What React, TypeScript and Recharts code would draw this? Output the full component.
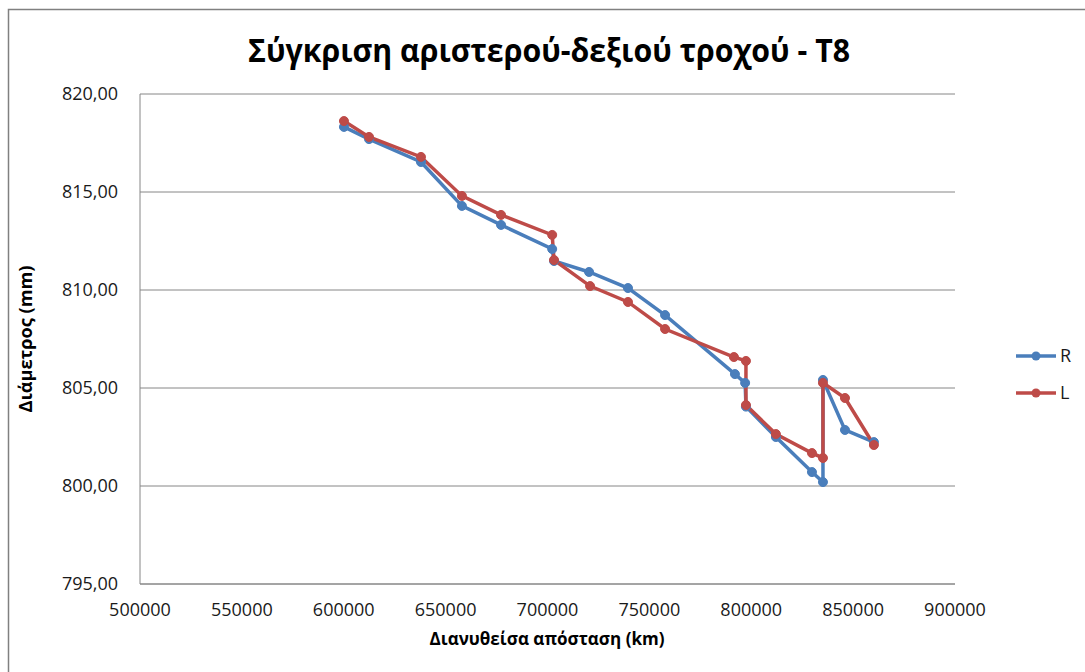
import React from "react";
import { LineChart, Line, XAxis, YAxis, CartesianGrid } from "recharts";

const rKm = [600100, 612400, 637900, 658000, 677200, 702300, 703200, 720400, 739500, 757700, 792000, 797000, 797400, 812100, 829800, 835200, 835200, 846000, 860200];
const rVal = [818.32, 817.7, 816.53, 814.29, 813.32, 812.09, 811.48, 810.92, 810.1, 808.72, 805.71, 805.26, 804.05, 802.5, 800.71, 800.2, 805.41, 802.86, 802.24];

const lKm = [600100, 612400, 637900, 658000, 677200, 702300, 703200, 720900, 739500, 757700, 791500, 797400, 797400, 812100, 829800, 835200, 835200, 846000, 860200];
const lVal = [818.62, 817.81, 816.79, 814.8, 813.83, 812.81, 811.53, 810.2, 809.39, 808.01, 806.58, 806.38, 804.13, 802.65, 801.68, 801.43, 805.26, 804.49, 802.09];

const xTicks = [500000, 550000, 600000, 650000, 700000, 750000, 800000, 850000, 900000];
const yTicks = [795, 800, 805, 810, 815, 820];

const seriesNames = ["R", "L"];
const BLUE = "#4A7EBB";
const RED = "#BE4B48";

const title = "Σύγκριση αριστερού-δεξιού τροχού - T8";
const xTitle = "Διανυθείσα απόσταση (km)";
const yTitle = "Διάμετρος (mm)";

const rData = rKm.map((x, i) => ({ x, y: rVal[i] }));
const lData = lKm.map((x, i) => ({ x, y: lVal[i] }));

const FONT = "'Open Sans', 'Liberation Sans', sans-serif";

export default function App() {
  return (
    <div style={{ position: "absolute", left: 0, top: 0, width: 1085, height: 672, background: "#fff" }}>
      <LineChart width={1085} height={672} margin={{ top: 94, right: 130, bottom: 48, left: 80 }}>
        <CartesianGrid vertical={false} stroke="#868686" strokeWidth={1} />
        <XAxis
          dataKey="x"
          type="number"
          domain={[500000, 900000]}
          ticks={xTicks}
          allowDuplicatedCategory={false}
          height={40}
          tickSize={0}
          tickMargin={19}
          axisLine={{ stroke: "#868686" }}
          tickLine={false}
          tick={{ fill: "#1a1a1a", fontSize: 18, fontFamily: FONT }}
        />
        <YAxis
          dataKey="y"
          type="number"
          domain={[795, 820]}
          ticks={yTicks}
          width={60}
          tickSize={0}
          tickMargin={22}
          axisLine={{ stroke: "#868686" }}
          tickLine={false}
          tickFormatter={(v: number) => v.toFixed(2).replace(".", ",")}
          tick={{ fill: "#1a1a1a", fontSize: 18, fontFamily: FONT }}
        />
        <Line
          data={rData}
          dataKey="y"
          name={seriesNames[0]}
          type="linear"
          stroke={BLUE}
          strokeWidth={3.5}
          dot={{ r: 4.5, fill: BLUE, stroke: BLUE, strokeWidth: 1 }}
          isAnimationActive={false}
        />
        <Line
          data={lData}
          dataKey="y"
          name={seriesNames[1]}
          type="linear"
          stroke={RED}
          strokeWidth={3.5}
          dot={{ r: 4.5, fill: RED, stroke: RED, strokeWidth: 1 }}
          isAnimationActive={false}
        />
      </LineChart>
      <svg width={1085} height={672} style={{ position: "absolute", left: 0, top: 0, pointerEvents: "none" }}>
        <path d="M8.5 672 L8.5 9.5 L1085 9.5" fill="none" stroke="#808080" strokeWidth={1.5} />
        <text x={549} y={62} textAnchor="middle" fontFamily={FONT} fontWeight="bold" fontSize={32} fill="#000" textLength={602} lengthAdjust="spacingAndGlyphs">
          {title}
        </text>
        <text x={547} y={645} textAnchor="middle" fontFamily={FONT} fontWeight="bold" fontSize={18} fill="#000" textLength={235} lengthAdjust="spacingAndGlyphs">
          {xTitle}
        </text>
        <text transform="translate(32,339) rotate(-90)" textAnchor="middle" fontFamily={FONT} fontWeight="bold" fontSize={18} fill="#000" textLength={147} lengthAdjust="spacingAndGlyphs">
          {yTitle}
        </text>
        <g>
          <line x1={1016} y1={356} x2={1056} y2={356} stroke={BLUE} strokeWidth={3.5} />
          <circle cx={1036} cy={356} r={4.5} fill={BLUE} />
          <text x={1060} y={362} fontFamily={FONT} fontSize={18} fill="#1a1a1a">{seriesNames[0]}</text>
          <line x1={1016} y1={393} x2={1056} y2={393} stroke={RED} strokeWidth={3.5} />
          <circle cx={1036} cy={393} r={4.5} fill={RED} />
          <text x={1060} y={399} fontFamily={FONT} fontSize={18} fill="#1a1a1a">{seriesNames[1]}</text>
        </g>
      </svg>
    </div>
  );
}
